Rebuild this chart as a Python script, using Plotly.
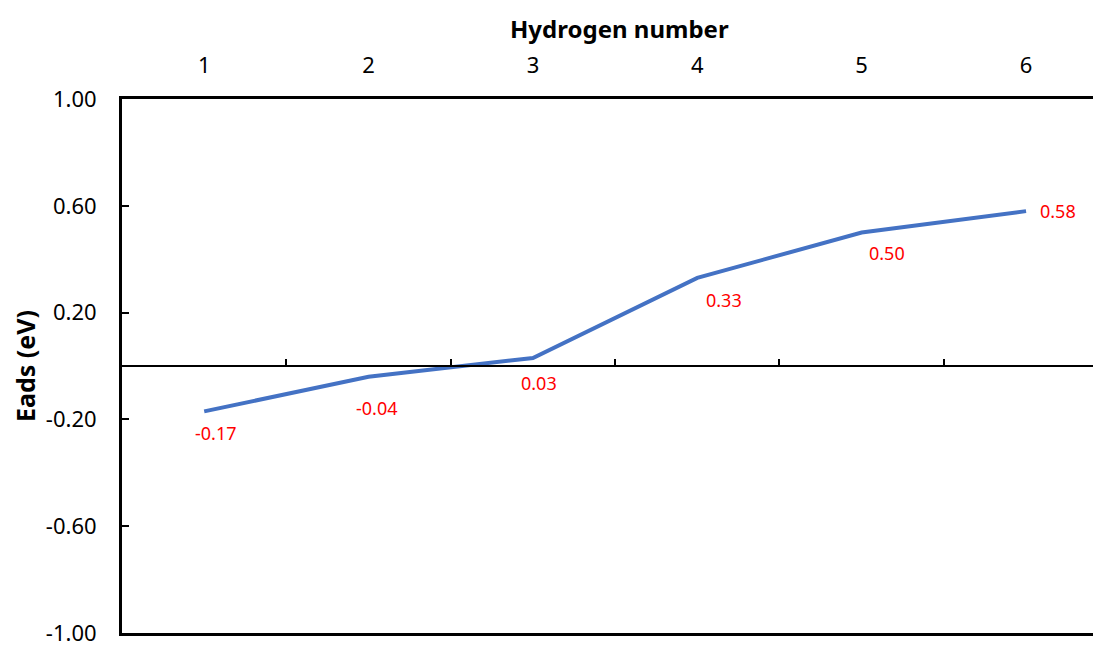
import plotly.graph_objects as go

hydrogen = [1, 2, 3, 4, 5, 6]
eads = [-0.17, -0.04, 0.03, 0.33, 0.50, 0.58]
labels = ["-0.17", "-0.04", "0.03", "0.33", "0.50", "0.58"]
y_ticks = [-1.0, -0.6, -0.2, 0.2, 0.6, 1.0]
y_tick_text = ["-1.00", "-0.60", "-0.20", "0.20", "0.60", "1.00"]
boundaries = [1.5, 2.5, 3.5, 4.5, 5.5]

# label offsets in pixels (dx, dy), dy positive = down
label_offsets = [(12, 22), (8, 31), (6, 25), (27, 22), (25, 20), (32, 0)]

FONT = "Noto Sans"
x_range = [0.5, 6.456]

fig = go.Figure()
fig.add_trace(go.Scatter(
    x=hydrogen, y=eads, mode="lines",
    line=dict(color="#4472C4", width=4),
    hoverinfo="skip", showlegend=False,
))

for xv, yv, txt, (dx, dy) in zip(hydrogen, eads, labels, label_offsets):
    fig.add_annotation(x=xv, y=yv, xref="x", yref="y", text=txt,
                       showarrow=False, xshift=dx, yshift=-dy,
                       font=dict(family=FONT, size=18, color="#FF0000"))

fig.add_annotation(x=3.5, y=1, xref="x", yref="paper", yshift=71, xshift=4,
                   xanchor="center", yanchor="middle",
                   text="<b>Hydrogen number</b>", showarrow=False,
                   font=dict(family=FONT, size=24, color="#000000"))

# page body has an 8px margin: figure starts at (8, 8)
fig.update_layout(
    width=1093, height=638,
    margin=dict(l=114, r=0, t=91, b=13),
    paper_bgcolor="white", plot_bgcolor="white",
    xaxis=dict(
        range=x_range, side="top", tickmode="array", tickvals=hydrogen,
        ticktext=[str(h) for h in hydrogen],
        ticks="outside", ticklen=14, tickcolor="rgba(0,0,0,0)",
        tickfont=dict(family=FONT, size=22, color="#000000"),
        showline=True, linecolor="#000000", linewidth=3, mirror=True,
        showgrid=False, zeroline=False,
    ),
    xaxis2=dict(
        range=x_range, overlaying="x", anchor="free", position=0.5, side="top",
        tickmode="array", tickvals=boundaries, showticklabels=False,
        ticks="outside", ticklen=6, tickwidth=2, tickcolor="#000000",
        showline=True, linecolor="#000000", linewidth=2,
        showgrid=False, zeroline=False,
    ),
    yaxis=dict(
        range=[-1, 1], tickmode="array", tickvals=y_ticks, ticktext=y_tick_text,
        ticks="inside", ticklen=7, tickwidth=2, tickcolor="#000000",
        ticklabelstandoff=18, ticklabeloverflow="allow",
        tickfont=dict(family=FONT, size=22, color="#000000"),
        showline=True, linecolor="#000000", linewidth=3,
        showgrid=False, zeroline=False,
        title=dict(text="<b>Eads (eV)</b>", standoff=10,
                   font=dict(family=FONT, size=25, color="#000000")),
    ),
)

# invisible trace to activate xaxis2
fig.add_trace(go.Scatter(x=[hydrogen[0]], y=[None], xaxis="x2", mode="lines",
                         showlegend=False, hoverinfo="skip"))

fig.write_html("out.html")
